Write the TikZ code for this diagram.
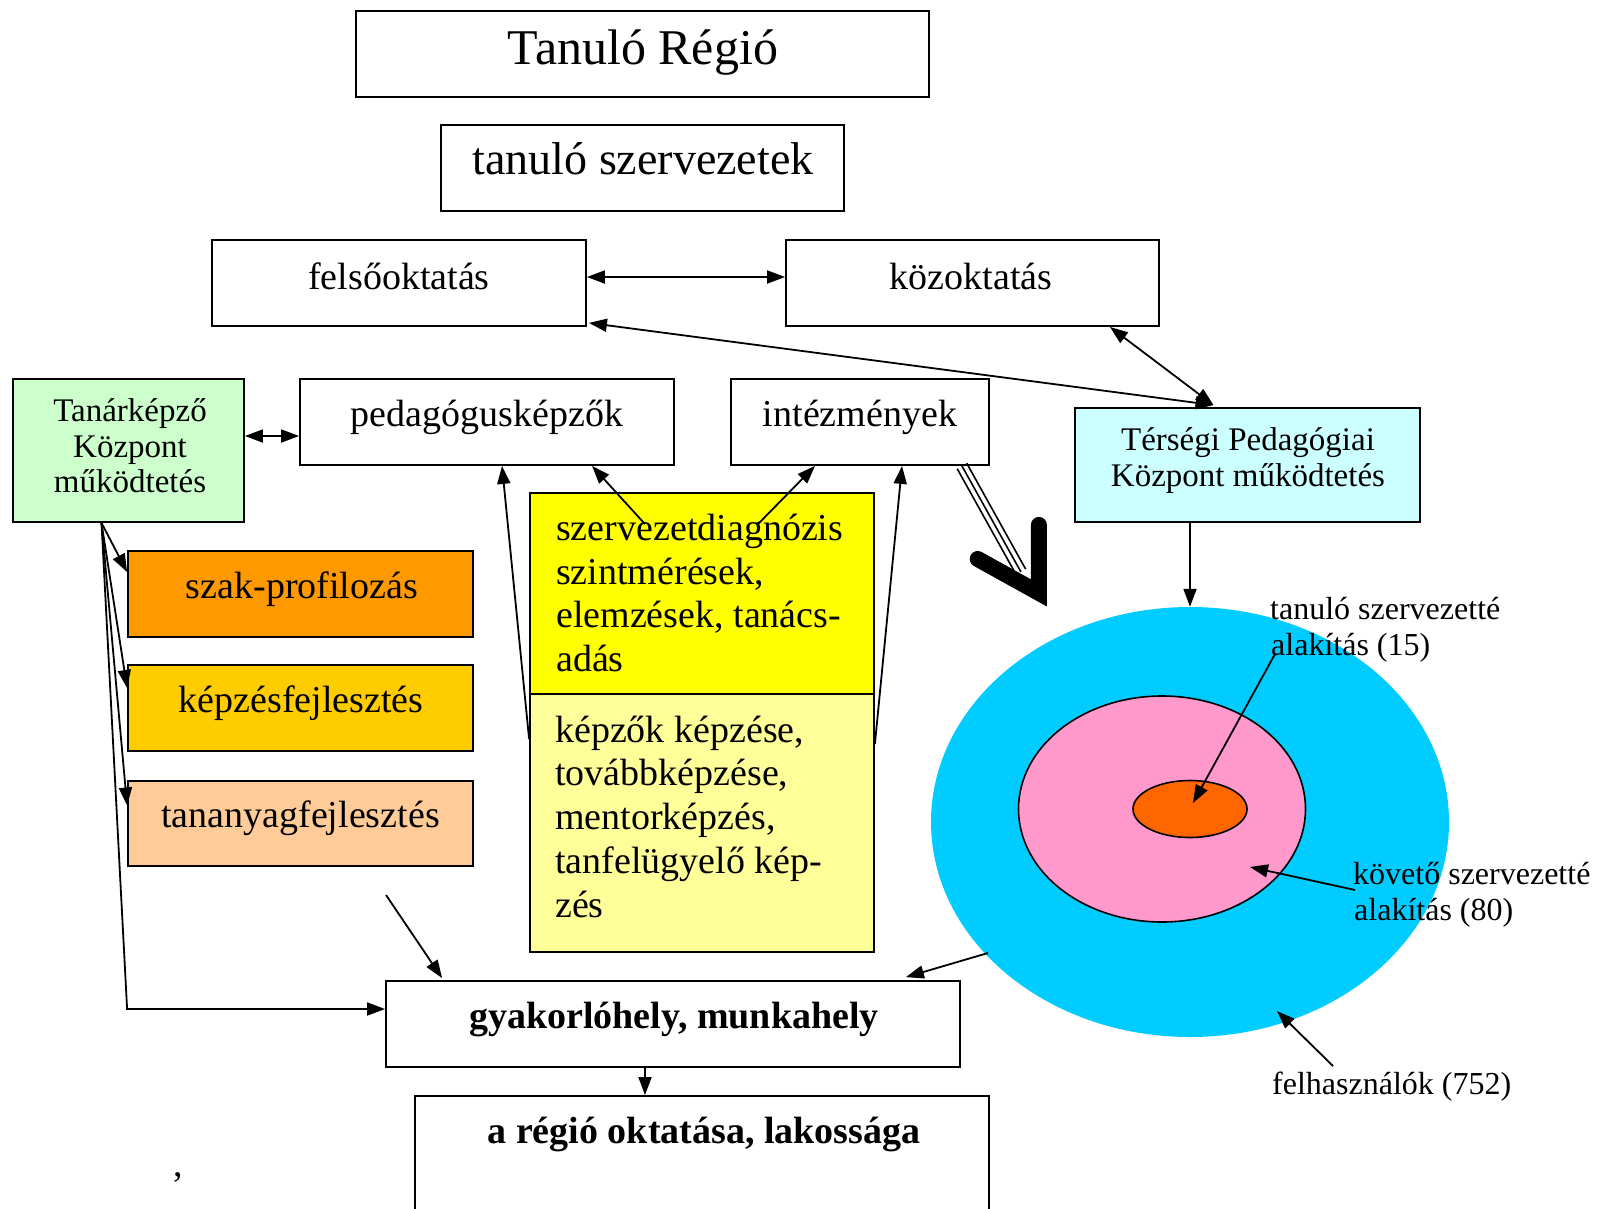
\documentclass[tikz,border=0pt]{standalone}
\usepackage{fontspec}
\setmainfont{Liberation Serif}
\usetikzlibrary{arrows.meta,calc,shapes.geometric}
\definecolor{tkgreen}{HTML}{CCFFCC}
\definecolor{tpcyan}{HTML}{CCFFFF}
\definecolor{szakor}{HTML}{FF9900}
\definecolor{kepzgold}{HTML}{FFCC00}
\definecolor{tanpeach}{HTML}{FFCC99}
\definecolor{ylw}{HTML}{FFFF00}
\definecolor{lylw}{HTML}{FFFF99}
\definecolor{skyc}{HTML}{00CCFF}
\definecolor{pinkc}{HTML}{FF99CC}
\definecolor{corec}{HTML}{FF6600}
\begin{document}
\begin{tikzpicture}[x=1pt,y=-1pt,
  >={Triangle[length=18pt,width=13pt]},
  bx/.style={draw=black,line width=1.8pt,inner sep=0pt,rectangle},
  tx/.style={inner sep=0pt,anchor=base},
  txw/.style={inner sep=0pt,anchor=base west},
  fR/.style={font=\fontsize{38}{44}\selectfont},
  fM/.style={font=\fontsize{33}{36}\selectfont},
  fS/.style={font=\fontsize{32}{36}\selectfont},
  fBd/.style={font=\fontsize{38}{44}\selectfont\bfseries},
  conn/.style={line width=1.8pt,->},
  conn2/.style={line width=1.8pt,<->},
  ov/.style={ellipse,inner sep=0pt},
]
\useasboundingbox (0,0) rectangle (1598,1208);
\clip (0,0) rectangle (1598,1208);
\fill[white] (0,0) rectangle (1598,1208);

% top boxes
\node[bx,minimum width=573pt,minimum height=86pt] (regio) at (642.5,54) {};
\node[tx,font=\fontsize{50}{56}\selectfont] (tRegio) at (643,64) {Tanuló Régió};
\node[bx,minimum width=403pt,minimum height=86pt] (szerv) at (642.5,168) {};
\node[tx,font=\fontsize{46}{52}\selectfont] (tSzerv) at (643,174) {tanuló szervezetek};
\node[bx,minimum width=374pt,minimum height=86pt] (felso) at (399,283) {};
\node[tx,fR] (tFelso) at (399,289) {felsőoktatás};
\node[bx,minimum width=373pt,minimum height=86pt] (koz) at (972.5,283) {};
\node[tx,fR] (tKoz) at (971,289) {közoktatás};

% row 2
\node[bx,fill=tkgreen,minimum width=231pt,minimum height=143pt] (tk) at (128.5,450.5) {};
\node[tx,fM] (tk1) at (130,421) {Tanárképző};
\node[tx,fM] (tk2) at (130,457) {Központ};
\node[tx,fM] (tk3) at (130,492) {működtetés};
\node[bx,minimum width=374pt,minimum height=86pt] (ped) at (487,422) {};
\node[tx,fR] (tPed) at (487,426) {pedagógusképzők};
\node[bx,minimum width=258pt,minimum height=86pt] (intez) at (860,422) {};
\node[tx,fR] (tIntez) at (860,426) {intézmények};
\node[bx,fill=tpcyan,minimum width=345pt,minimum height=114pt] (tp) at (1247.5,465) {};
\node[tx,fM] (tp1) at (1248,450) {Térségi Pedagógiai};
\node[tx,fM] (tp2) at (1248,486) {Központ működtetés};

% coloured left boxes
\node[bx,fill=szakor,minimum width=345pt,minimum height=86pt] (szak) at (300.5,594) {};
\node[tx,fR] (tSzak) at (302,598) {szak-profilozás};
\node[bx,fill=kepzgold,minimum width=345pt,minimum height=86pt] (kepz) at (300.5,708) {};
\node[tx,fR] (tKepz) at (301,712) {képzésfejlesztés};
\node[bx,fill=tanpeach,minimum width=345pt,minimum height=85pt] (tan) at (300.5,823.5) {};
\node[tx,fR] (tTan) at (300.5,827) {tananyagfejlesztés};

% yellow stack
\node[bx,fill=ylw,minimum width=344pt,minimum height=201pt] (ylwbox) at (702,593.5) {};
\node[txw,fR] (y1) at (556,540) {szervezetdiagnózis};
\node[txw,fR] (y2) at (556,584) {szintmérések,};
\node[txw,fR] (y3) at (556,627) {elemzések, tanács-};
\node[txw,fR] (y4) at (556,671) {adás};
\node[bx,fill=lylw,minimum width=344pt,minimum height=258pt] (lylbox) at (702,823) {};
\node[txw,fR] (l1) at (555,742) {képzők képzése,};
\node[txw,fR] (l2) at (555,785) {továbbképzése,};
\node[txw,fR] (l3) at (555,829) {mentorképzés,};
\node[txw,fR] (l4) at (555,873) {tanfelügyelő kép-};
\node[txw,fR] (l5) at (555,917) {zés};

% bottom boxes
\node[bx,minimum width=574pt,minimum height=86pt] (gyak) at (673,1024) {};
\node[tx,fBd] (tGyak) at (674,1028) {gyakorlóhely, munkahely};
\node[bx,minimum width=574pt,minimum height=150pt] (reg) at (702,1171) {};
\node[tx,fBd] (tReg) at (704,1143) {a régió oktatása, lakossága};
\node[tx,fR] (comma) at (178,1176) {,};

% ellipses
\node[ov,fill=skyc,minimum width=518pt,minimum height=430pt] (sky) at (1190,822) {};
\node[ov,draw=black,line width=1.6pt,fill=pinkc,minimum width=287pt,minimum height=226pt] (pink) at (1162,809) {};
\node[ov,draw=black,line width=1.6pt,fill=corec,minimum width=114pt,minimum height=57pt] (core) at (1190,809) {};

% ellipse labels
\node[txw,fS] (lab15a) at (1270,619) {tanuló szervezetté};
\node[txw,fS] (lab15b) at (1271,655) {alakítás (15)};
\node[txw,fS] (lab80a) at (1353,884) {követő szervezetté};
\node[txw,fS] (lab80b) at (1354,920) {alakítás (80)};
\node[txw,fS] (lab752) at (1272,1094) {felhasználók (752)};

% connectors top
\draw[conn2] ($(felso.east)+(0,-6)$) -- ($(koz.west)+(0,-6)$);
\coordinate (tpTop) at ($(tp.north)+(-34,-2)$);
\draw[conn2] ($(felso.south east)+(2,-4)$) -- (tpTop);
\draw[conn2] ($(koz.south east)+(-50,0)$) -- (tpTop);
\draw[conn2] ($(tk.east)+(0,-14.5)$) -- ($(ped.west)+(0,14)$);

% from Tanárképző
\coordinate (tkfoot) at ($(tk.south)+(-27,0)$);
\draw[conn] (tkfoot) -- ($(szak.west)+(0,-22)$);
\draw[conn] (tkfoot) -- ($(kepz.west)+(0,-20)$);
\draw[conn] (tkfoot) -- ($(tan.west)+(0,-18)$);
\draw[conn] (tkfoot) -- ($(gyak.west)+(-258,-15)$) -- ($(gyak.west)+(0,-15)$);

% yellow stack to row 2
\draw[conn] ($(lylbox.west)+(0,-84)$) -- ($(ped.south)+(15,0)$);
\draw[conn] ($(ylwbox.north)+(-57,32)$) -- ($(ped.south)+(105,0)$);
\draw[conn] ($(ylwbox.north)+(56,32)$) -- ($(intez.south)+(-45,0)$);
\draw[conn] ($(lylbox.east)+(0,-79)$) -- ($(intez.south)+(42,0)$);

% triple line with big chevron
\coordinate (tripA) at ($(intez.south east)+(-28,0)$);
\coordinate (tripTip) at ($(tripA)+(77,127)$);
\foreach \o in {-5.5,0,5.5}{
  \draw[line width=1.6pt] ($(tripA)+(0.86*\o,-0.51*\o)$) -- ($(tripA)+(59+0.86*\o,106-0.51*\o)$);
}
\draw[line width=16pt,line cap=round,line join=miter]
  ($(tripTip)+(209:70)$) -- (tripTip) -- ($(tripTip)+(270:68)$);

% Térségi to ellipse
\draw[conn] ($(tp.south)+(-57.5,0)$) -- (sky.north);

% label arrows
\draw[conn] ($(lab15b.base west)+(4,-1)$) -- ($(core.center)+(3,-6)$);
\draw[conn] ($(lab80a.base west)+(2,6)$) -- ($(pink.center)+(88,58)$);
\draw[conn] ($(lab752.base west)+(61,-28)$) -- ($(sky.center)+(87,189)$);
\draw[conn] ($(sky.center)+(-202,131)$) -- ($(gyak.north east)+(-55,-3)$);
\coordinate (freeA) at (386,895);
\draw[conn] (freeA) -- ($(gyak.north west)+(57,-2)$);
\draw[conn] ($(gyak.south)+(-28,0)$) -- ($(reg.north)+(-57,0)$);
\end{tikzpicture}
\end{document}
